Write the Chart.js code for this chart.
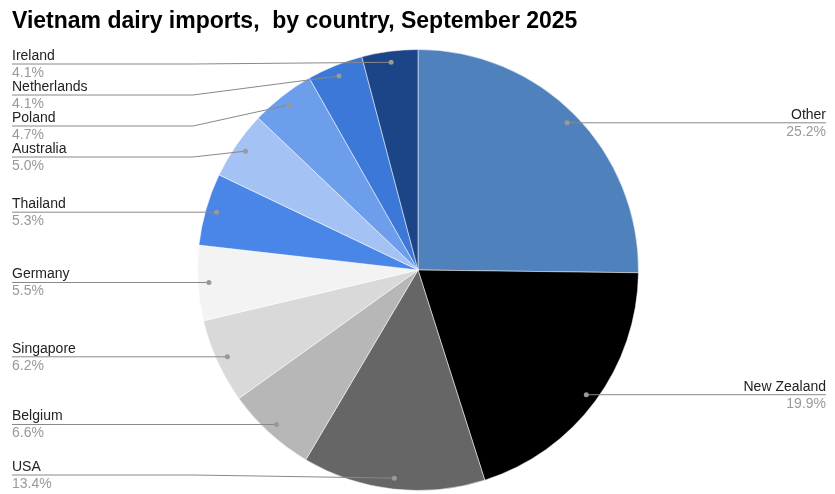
<!DOCTYPE html>
<html>
<head>
<meta charset="utf-8">
<script src="https://cdn.jsdelivr.net/npm/chart.js@4.4.1/dist/chart.umd.min.js"></script>
<style>
  html, body { margin: 0; padding: 0; background: #fff; }
  #wrap { width: 835px; height: 494px; position: relative; }
</style>
</head>
<body>
<div id="wrap"><canvas id="pie" width="835" height="494"></canvas></div>
<script>
// data
const countries = ["Other", "New Zealand", "USA", "Belgium", "Singapore", "Germany",
  "Thailand", "Australia", "Poland", "Netherlands", "Ireland"]
const shares = [25.2, 19.9, 13.4, 6.6, 6.2, 5.5, 5.3, 5.0, 4.7, 4.1, 4.1]
const sliceColors = ["#4f81bd", "#000000", "#666666", "#b7b7b7", "#d9d9d9", "#f3f3f3",
  "#4a86e8", "#a4c2f4", "#6d9eeb", "#3c78d8", "#1c4587"]
const chartTitle = "Vietnam dairy imports,  by country, September 2025"

const FONT = '"Liberation Sans", Arial, sans-serif'

// -----------------------------
// Title + leader labels
// -----------------------------
const leaderLabels = {
  id: "leaderLabels",
  afterDraw(chart) {
    const ctx = chart.ctx
    const meta = chart.getDatasetMeta(0)

    ctx.save()
    ctx.fillStyle = "#000"
    ctx.font = "bold 23px " + FONT
    ctx.textBaseline = "alphabetic"
    ctx.textAlign = "left"
    ctx.fillText(chartTitle, 12, 28)

    const items = meta.data.map((arc, i) => {
      const p = arc.getProps(["x", "y", "startAngle", "endAngle", "outerRadius"], true)
      const a = (p.startAngle + p.endAngle) / 2
      const r = p.outerRadius * 0.95
      return {
        i,
        right: Math.cos(a) > 0,
        dx: p.x + Math.cos(a) * r,
        dy: p.y + Math.sin(a) * r,
        ly: p.y + Math.sin(a) * r
      }
    })

    // keep left labels from overlapping
    const left = items.filter(d => !d.right).sort((a, b) => a.dy - b.dy)
    let prev = -Infinity
    left.forEach(d => {
      d.ly = Math.max(d.ly, 64, prev + 31)
      prev = d.ly
    })
    for (let k = left.length - 1; k >= 0; k--) {
      const lim = k === left.length - 1 ? 475 : left[k + 1].ly - 31
      left[k].ly = Math.min(left[k].ly, lim)
    }

    items.forEach(d => {
      const bendX = d.right ? 642 : 193
      const endX = d.right ? 826 : 12

      ctx.strokeStyle = "#888"
      ctx.lineWidth = 1
      ctx.beginPath()
      ctx.moveTo(d.dx, d.dy)
      if (d.right ? d.dx < bendX : d.dx > bendX) ctx.lineTo(bendX, d.ly)
      ctx.lineTo(endX, d.ly)
      ctx.stroke()

      ctx.fillStyle = "#999"
      ctx.beginPath()
      ctx.arc(d.dx, d.dy, 2.5, 0, Math.PI * 2)
      ctx.fill()

      ctx.textAlign = d.right ? "right" : "left"
      ctx.font = "14px " + FONT
      ctx.fillStyle = "#222"
      ctx.fillText(countries[d.i], endX, d.ly - 4)
      ctx.fillStyle = "#999"
      ctx.fillText(shares[d.i].toFixed(1) + "%", endX, d.ly + 13)
    })
    ctx.restore()
  }
}

// -----------------------------
// Chart
// -----------------------------
new Chart(document.getElementById("pie"), {
  type: "pie",
  data: {
    labels: countries,
    datasets: [{
      data: shares,
      backgroundColor: sliceColors,
      borderColor: "rgba(255,255,255,0.5)",
      borderWidth: 1
    }]
  },
  options: {
    responsive: false,
    animation: false,
    layout: { padding: { top: 49, bottom: 3, left: 197, right: 196 } },
    plugins: {
      legend: { display: false },
      tooltip: { enabled: false }
    }
  },
  plugins: [leaderLabels]
})
</script>
</body>
</html>
